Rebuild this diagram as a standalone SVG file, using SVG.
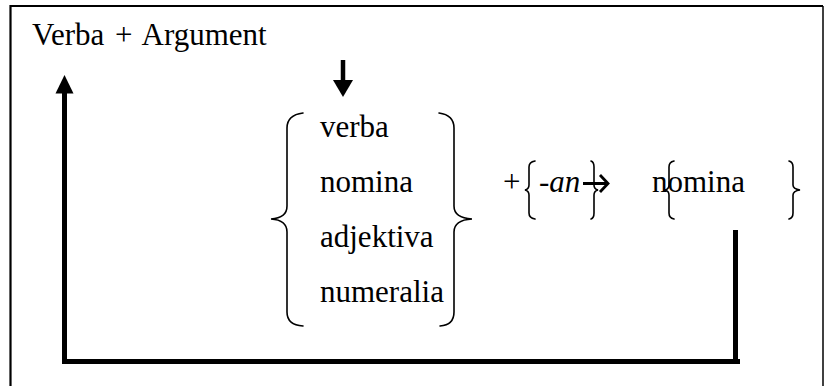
<svg xmlns="http://www.w3.org/2000/svg" width="824" height="386" viewBox="0 0 824 386">
<style>
text{font-family:'Liberation Serif','Times New Roman','DejaVu Serif',serif;font-size:31px;fill:#000}
.i{font-style:italic}
.br{fill:none;stroke:#000;stroke-width:1.6;stroke-linecap:round}
.frame{fill:none;stroke:#000;stroke-width:2.2}
</style>
<rect width="824" height="386" fill="#fff"/>
<g id="frame">
<path class="frame" d="M10.5 386 V6 H823"/>
<line x1="823" y1="6" x2="823" y2="386" stroke="#000" stroke-width="1.5"/>
</g>
<g id="result-label">
<text x="32" y="45" word-spacing="3">Verba + Argument</text>
</g>
<g id="base-categories">
<path class="br" d="M303 113 Q287 115 287 128 V206 Q287 218 271 219 Q287 220 287 232 V312 Q287 325 303 326"/>
<text x="320" y="137">verba</text>
<text x="320" y="192">nomina</text>
<text x="320" y="247">adjektiva</text>
<text x="320" y="302">numeralia</text>
<path class="br" d="M439 113 Q454 115 454 128 V206 Q454 218 472 219 Q454 220 454 232 V312 Q454 325 440 326"/>
</g>
<g id="suffix">
<text x="503" y="192">+</text>
<path class="br" d="M535 161 Q529 162 529 167 V185 Q529 189 525 190 Q529 191 529 195 V213 Q529 218 535 219"/>
<text class="i" x="539" y="192">-an</text>
<path class="br" d="M591 161 Q594 162 594 167 V185 Q594 189 598 190 Q594 191 594 195 V213 Q594 218 591 219"/>
</g>
<g id="result">
<text x="652" y="192">nomina</text>
<path class="br" d="M674 161 Q669 162 669 167 V185 Q669 189 665 190 Q669 191 669 195 V213 Q669 218 674 219"/>
<path class="br" d="M789 161 Q793 162 793 167 V185 Q793 189 800 190 Q793 191 793 195 V213 Q793 218 789 219"/>
</g>
<g id="connectors">
<line x1="343" y1="60" x2="343" y2="82" stroke="#000" stroke-width="4.5"/>
<polygon points="333,80 353,80 343,97" fill="#000"/>
<path d="M583 183.5 H606 M600 175 L608 183.5 L600 192" fill="none" stroke="#000" stroke-width="2.8"/>
<line x1="64.5" y1="91" x2="64.5" y2="364" stroke="#000" stroke-width="5"/>
<polygon points="55.5,93.5 73.5,93.5 64.5,75" fill="#000"/>
<line x1="62" y1="361.5" x2="740" y2="361.5" stroke="#000" stroke-width="5"/>
<line x1="735.5" y1="230" x2="735.5" y2="364" stroke="#000" stroke-width="5"/>
</g>
</svg>
